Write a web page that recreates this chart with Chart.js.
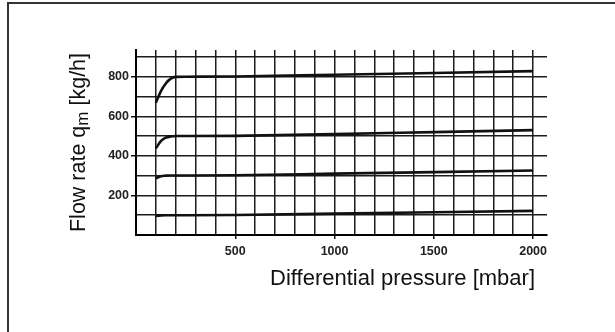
<!DOCTYPE html>
<html>
<head>
<meta charset="utf-8">
<script src="https://cdn.jsdelivr.net/npm/chart.js@4/dist/chart.umd.min.js"></script>
<style>
    html, body { margin: 0; padding: 0; background: #fff; }
    canvas { display: block; }
</style>
</head>
<body>
<canvas id="flowChart" width="615" height="332"></canvas>
<script>
const pressure = [100, 125, 150, 175, 200, 250, 500, 1000, 1500, 2000];
const flow800 = [668, 726, 766, 790, 799, 800, 801, 810, 819, 828];
const flow500 = [438, 474, 492, 498, 500, 500, 501, 510, 520, 530];
const flow300 = [287, 297, 300, 301, 301, 301, 302, 310, 318, 326];
const flow100 = [96, 99, 100, 100, 100, 100, 101, 108, 115, 122];

// Grid and tick labels
const xGrid = [0, 100, 200, 300, 400, 500, 600, 700, 800, 900, 1000, 1100, 1200, 1300, 1400, 1500, 1600, 1700, 1800, 1900, 2000];
const xLabels = [500, 1000, 1500, 2000];
const yGrid = [0, 100, 200, 300, 400, 500, 600, 700, 800, 900];
const yLabels = [200, 400, 600, 800];

const tickFont = { family: 'Liberation Sans, Arial, sans-serif', size: 12.5, weight: 'bold' };
const titleFont = '21.5px "Liberation Sans", Arial, sans-serif';

function toPoints(values) {
    return pressure.map((p, i) => ({ x: p, y: values[i] }));
}

function curve(values) {
    return {
        data: toPoints(values),
        borderColor: '#111',
        borderWidth: 2.6,
        pointRadius: 0,
        cubicInterpolationMode: 'monotone',
        fill: false
    };
}

// Frame and axis titles (the y title has a subscript)
const sheetDecor = {
    id: 'sheetDecor',
    beforeDraw(chart) {
        const ctx = chart.ctx;
        ctx.save();
        ctx.fillStyle = '#fff';
        ctx.fillRect(0, 0, chart.width, chart.height);
        ctx.strokeStyle = '#333';
        ctx.lineWidth = 2;
        ctx.strokeRect(8, 3, 700, 400);
        ctx.restore();
    },
    afterDraw(chart) {
        const ctx = chart.ctx;
        const area = chart.chartArea;
        ctx.save();
        ctx.fillStyle = '#111';

        // x title, right aligned near the end of the axis
        ctx.font = '22px "Liberation Sans", Arial, sans-serif';
        ctx.textAlign = 'right';
        ctx.textBaseline = 'alphabetic';
        ctx.fillText('Differential pressure [mbar]', 535, 285);

        // y title, rotated
        const partA = 'Flow rate q';
        const partB = 'm';
        const partC = ' [kg/h]';
        const subFont = '17px "Liberation Sans", Arial, sans-serif';
        ctx.font = titleFont;
        const wA = ctx.measureText(partA).width;
        const wC = ctx.measureText(partC).width;
        ctx.font = subFont;
        const wB = ctx.measureText(partB).width;
        const total = wA + wB + wC;
        const cy = (area.top + area.bottom) / 2;
        ctx.translate(85, cy);
        ctx.rotate(-Math.PI / 2);
        ctx.textAlign = 'left';
        let x = -total / 2;
        ctx.font = titleFont;
        ctx.fillText(partA, x, 0);
        x += wA;
        ctx.font = subFont;
        ctx.fillText(partB, x, 3);
        x += wB;
        ctx.font = titleFont;
        ctx.fillText(partC, x, 0);
        ctx.restore();
    }
};

new Chart(document.getElementById('flowChart').getContext('2d'), {
    type: 'line',
    data: {
        datasets: [curve(flow800), curve(flow500), curve(flow300), curve(flow100)]
    },
    options: {
        responsive: false,
        animation: false,
        layout: { padding: { left: 0, top: 50, right: 68, bottom: 0 } },
        plugins: {
            legend: { display: false },
            tooltip: { enabled: false }
        },
        scales: {
            x: {
                type: 'linear',
                min: 0,
                max: 2070,
                afterBuildTicks(scale) {
                    scale.ticks = xGrid.map(v => ({ value: v }));
                },
                afterFit(scale) {
                    scale.height = 97;
                },
                ticks: {
                    autoSkip: false,
                    maxRotation: 0,
                    padding: 5,
                    color: '#222',
                    font: tickFont,
                    callback: v => (xLabels.includes(v) ? String(v) : '')
                },
                grid: {
                    color: '#1c1c1c',
                    lineWidth: 1.5,
                    tickLength: 4,
                    tickColor: ctx => (ctx.tick && xLabels.includes(ctx.tick.value) ? '#111' : 'rgba(0,0,0,0)')
                },
                border: { color: '#000', width: 2 }
            },
            y: {
                type: 'linear',
                min: 0,
                max: 935,
                afterBuildTicks(scale) {
                    scale.ticks = yGrid.map(v => ({ value: v }));
                },
                afterFit(scale) {
                    scale.width = 136;
                },
                ticks: {
                    autoSkip: false,
                    padding: 2,
                    color: '#222',
                    font: tickFont,
                    callback: v => (yLabels.includes(v) ? String(v) : '')
                },
                grid: {
                    color: '#1c1c1c',
                    lineWidth: 1.5,
                    tickLength: 5,
                    tickColor: ctx => (ctx.tick && yLabels.includes(ctx.tick.value) ? '#111' : 'rgba(0,0,0,0)')
                },
                border: { color: '#000', width: 2 }
            }
        }
    },
    plugins: [sheetDecor]
});
</script>
</body>
</html>
